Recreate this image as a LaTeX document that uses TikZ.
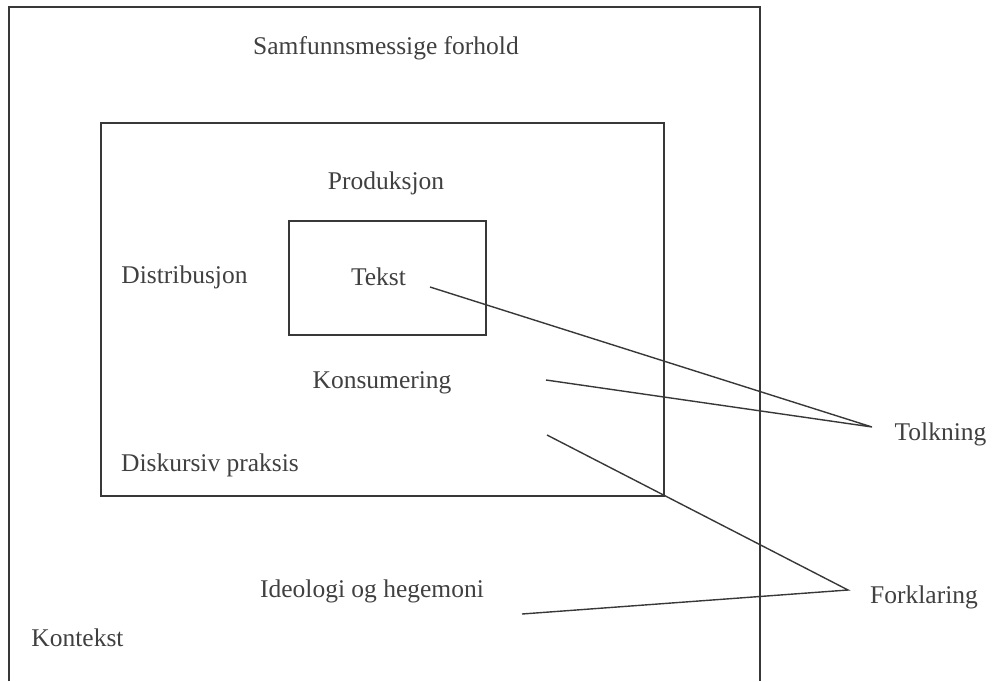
\documentclass[tikz,border=0pt]{standalone}
\usepackage{fontspec}
\setmainfont{Liberation Serif}
\begin{document}
\begin{tikzpicture}[x=1pt,y=-1pt,
  ln/.style={draw=black!78, line width=1.4pt},
  lbl/.style={font=\fontsize{25.5}{30}\selectfont, text=black!75, inner sep=0pt, anchor=center}]
\useasboundingbox (0,0) rectangle (993,681);
% frames
\draw[ln] (9,681) -- (9,7) -- (760,7) -- (760,681);
\draw[ln] (101,123) rectangle (664,496);
\draw[ln] (289,221) rectangle (486,335);
% labels
\node[lbl] (samf) at (386,48) {Samfunnsmessige forhold};
\node[lbl] (prod) at (386,183) {Produksjon};
\node[lbl] (dist) at (184.5,277) {Distribusjon};
\node[lbl] (tekst) at (378.5,277) {Tekst};
\node[lbl] (kons) at (382,383) {Konsumering};
\node[lbl] (disk) at (210,465) {Diskursiv praksis};
\node[lbl] (ideo) at (372,591) {Ideologi og hegemoni};
\node[lbl] (kont) at (77.5,638) {Kontekst};
\node[lbl] (tolk) at (940.5,434) {Tolkning};
\node[lbl] (fork) at (924,597) {Forklaring};
% connector ends
\coordinate (t1) at (430,287);
\coordinate (t2) at (546,380);
\coordinate (tA) at (872,427);
\coordinate (f1) at (547,435);
\coordinate (f2) at (522,614);
\coordinate (fA) at (848,590);
\draw[ln] (t1) -- (tA) -- (t2);
\draw[ln] (f1) -- (fA) -- (f2);
\end{tikzpicture}
\end{document}
